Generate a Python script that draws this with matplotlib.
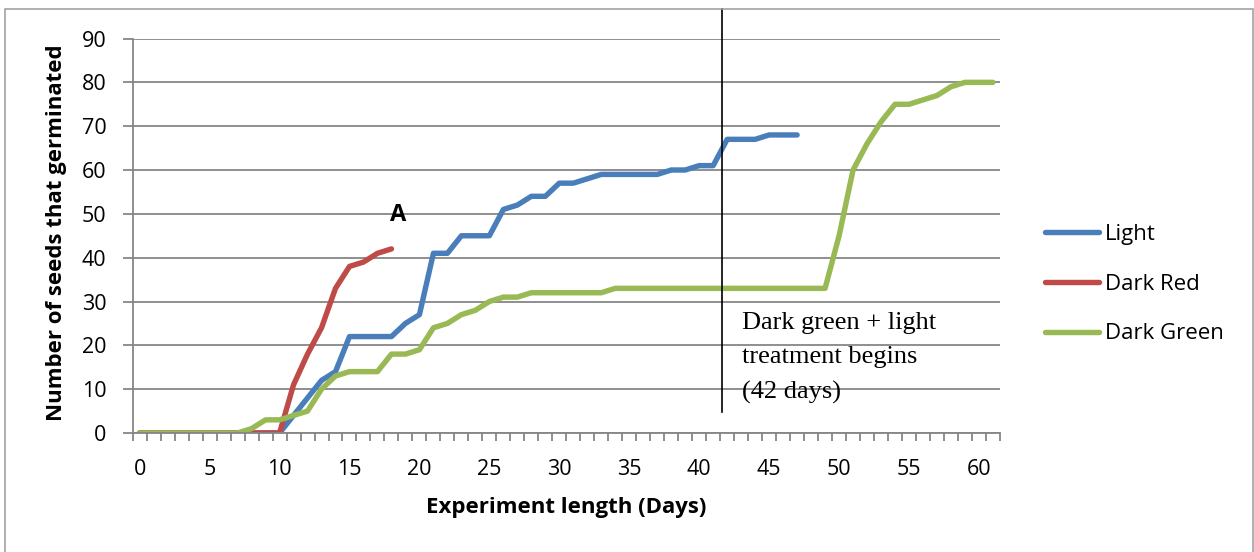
import numpy as np
import matplotlib.pyplot as plt
from matplotlib.patches import Rectangle

# germination counts per day for the three treatments
days_light = np.arange(0, 48)
light = [0, 0, 0, 0, 0, 0, 0, 0, 0, 0, 0,
         4, 8, 12, 14, 22, 22, 22, 22, 25, 27, 41, 41, 45, 45, 45, 51, 52,
         54, 54, 57, 57, 58, 59, 59, 59, 59, 59, 60, 60, 61, 61, 67, 67, 67,
         68, 68, 68]

days_red = np.arange(0, 19)
dark_red = [0, 0, 0, 0, 0, 0, 0, 0, 0, 0, 0, 11, 18, 24, 33, 38, 39, 41, 42]

days_green = np.arange(0, 62)
dark_green = [0, 0, 0, 0, 0, 0, 0, 0, 1, 3, 3, 4, 5, 10, 13, 14, 14, 14, 18,
              18, 19, 24, 25, 27, 28, 30, 31, 31, 32, 32, 32, 32, 32, 32,
              33, 33, 33, 33, 33, 33, 33, 33, 33, 33, 33, 33, 33, 33, 33, 33,
              45, 60, 66, 71, 75, 75, 76, 77, 79, 80, 80, 80]

series_names = ['Light', 'Dark Red', 'Dark Green']
series_colors = ['#4a7ebb', '#be4b48', '#98b954']
treatment_day = 41.6

plt.rcParams['font.family'] = ['Open Sans', 'DejaVu Sans']
grid_col = '#868686'

fig = plt.figure(figsize=(12.54, 5.52), dpi=100)
ax = fig.add_axes([0.1058, 0.2156, 0.6916, 0.7146])

for xs, ys, name, col in zip([days_light, days_red, days_green],
                             [light, dark_red, dark_green],
                             series_names, series_colors):
    ax.plot(xs, ys, color=col, lw=3.9, label=name,
            solid_capstyle='round', solid_joinstyle='round')

ax.set_xlim(-0.5, 61.5)
ax.set_ylim(0, 90)
ax.set_yticks(np.arange(0, 91, 10))
ax.set_xticks(np.arange(0, 61, 5))
ax.set_xticks(np.arange(-0.5, 62, 1), minor=True)
ax.grid(axis='y', color=grid_col, lw=1.3)
ax.set_axisbelow(True)

for side in ['top', 'right']:
    ax.spines[side].set_visible(False)
for side in ['left', 'bottom']:
    ax.spines[side].set_color(grid_col)
    ax.spines[side].set_linewidth(1.3)

ax.tick_params(axis='y', length=7, width=1.3, color=grid_col, pad=12,
               labelsize=15.5)
ax.tick_params(axis='x', which='major', length=0, pad=19, labelsize=15.5)
ax.tick_params(axis='x', which='minor', length=5.5, width=1.3,
               color=grid_col)

# treatment marker and note
ax.plot([treatment_day, treatment_day], [4.8, 96.8], color='black', lw=1.2,
        clip_on=False)
ax.text(43.05, 17.2, 'Dark green + light\ntreatment begins\n(42 days)',
        family='Liberation Serif', fontsize=19, ha='left', va='center',
        linespacing=1.72)
ax.text(18.5, 49.7, 'A', fontsize=17, fontweight='bold', ha='center',
        va='center')

fig.text(57 / 1254, 1 - 233 / 552, 'Number of seeds that germinated',
         rotation=90, ha='center', va='center', fontsize=16,
         fontweight='bold')
fig.text(566 / 1254, 1 - 508 / 552, 'Experiment length (Days)',
         ha='center', va='center', fontsize=16, fontweight='bold')

fig.legend(loc='center left', bbox_to_anchor=(1045 / 1254, 1 - 284 / 552),
           frameon=False, fontsize=16, handlelength=2.45, handletextpad=0.25,
           labelspacing=1.3, borderpad=0, borderaxespad=0)

# chart border
fig.add_artist(Rectangle((5 / 1254, -0.05), 1247.5 / 1254,
                         1.05 - 9 / 552, transform=fig.transFigure,
                         fill=False, edgecolor='#9a9a9a', lw=1.1))

fig.savefig('out.png', dpi=100)
